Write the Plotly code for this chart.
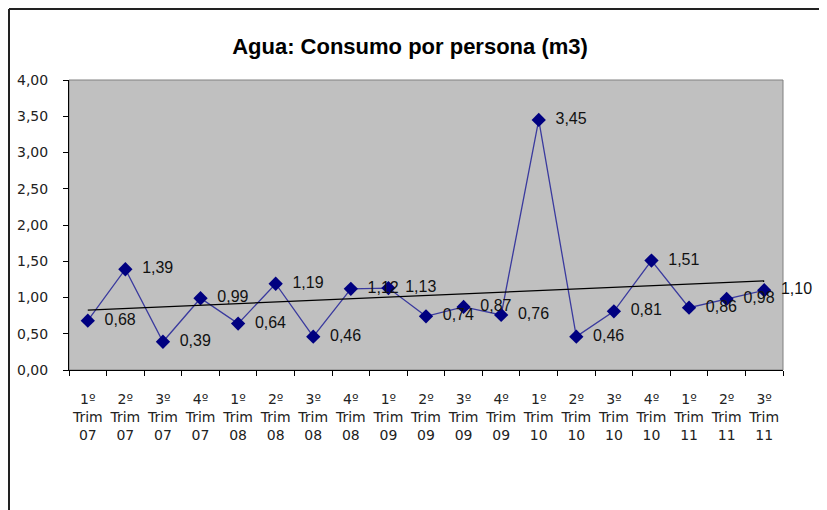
import numpy as np
import plotly.graph_objects as go

categories = ["1º<br>Trim<br>07", "2º<br>Trim<br>07", "3º<br>Trim<br>07", "4º<br>Trim<br>07",
              "1º<br>Trim<br>08", "2º<br>Trim<br>08", "3º<br>Trim<br>08", "4º<br>Trim<br>08",
              "1º<br>Trim<br>09", "2º<br>Trim<br>09", "3º<br>Trim<br>09", "4º<br>Trim<br>09",
              "1º<br>Trim<br>10", "2º<br>Trim<br>10", "3º<br>Trim<br>10", "4º<br>Trim<br>10",
              "1º<br>Trim<br>11", "2º<br>Trim<br>11", "3º<br>Trim<br>11"]
values = [0.68, 1.39, 0.39, 0.99, 0.64, 1.19, 0.46, 1.12, 1.13, 0.74,
          0.87, 0.76, 3.45, 0.46, 0.81, 1.51, 0.86, 0.98, 1.10]
y_ticks = [0, 0.5, 1, 1.5, 2, 2.5, 3, 3.5, 4]
y_ticktext = [f"{v:.2f}".replace(".", ",") for v in y_ticks]

labels = ["\u00a0\u00a0" + f"{v:.2f}".replace(".", ",") for v in values]

idx = np.arange(len(values))
slope, intercept = np.polyfit(idx, values, 1)
trend = [intercept + slope * i for i in (idx[0], idx[-1])]

fig = go.Figure()
fig.add_trace(go.Scatter(
    x=categories, y=values, mode="lines+markers+text",
    line=dict(color="#3a3a9e", width=1.3),
    marker=dict(symbol="diamond", size=11, color="#000080"),
    text=labels, textposition="middle right",
    textfont=dict(family="Liberation Sans, Arial", size=16, color="#111111"),
    cliponaxis=False, showlegend=False))
fig.add_trace(go.Scatter(
    x=[categories[0], categories[-1]], y=trend, mode="lines",
    line=dict(color="#000000", width=1.2), hoverinfo="skip", showlegend=False))

# the page body has an 8px margin; figure coordinates are page coordinates minus 8
OFF = 8
W, H = 827 - OFF, 510 - OFF
L, R, T, B = 69 - OFF, 783 - OFF, 80 - OFF, 370 - OFF
def px_x(p):
    return (p - OFF - L) / (R - L)
def px_y(p):
    return (B - (p - OFF)) / (B - T)

fig.update_layout(
    width=W, height=H,
    margin=dict(l=L, r=W - R, t=T, b=H - B, autoexpand=False),
    paper_bgcolor="#ffffff", plot_bgcolor="#c0c0c0",
    title=dict(text="<b>Agua: Consumo por persona (m3)</b>",
               font=dict(family="Liberation Sans, Arial", size=22, color="#000000"),
               x=(410 - OFF) / W, xanchor="center", xref="container",
               y=1 - (46 - OFF) / H, yanchor="middle", yref="container"),
    xaxis=dict(type="category", categoryorder="array", categoryarray=categories,
               showgrid=False, showline=True, linecolor="#000000", automargin=False,
               linewidth=1, ticks="outside", tickson="boundaries", ticklen=5,
               tickcolor="#000000", tickangle=0, ticklabelstandoff=16,
               tickfont=dict(family="DejaVu Sans", size=14, color="#222222"),
               range=[-0.5, len(categories) - 0.5]),
    yaxis=dict(range=[0, 4], tickvals=y_ticks, ticktext=y_ticktext, showgrid=False,
               zeroline=False, showline=True, linecolor="#000000", linewidth=1,
               automargin=False, ticks="outside", ticklen=5, tickcolor="#000000",
               ticklabelstandoff=12,
               tickfont=dict(family="DejaVu Sans", size=14, color="#222222")),
    shapes=[
        dict(type="rect", xref="paper", yref="paper", x0=0, x1=1, y0=0, y1=1,
             line=dict(color="#808080", width=1), layer="below"),
        dict(type="line", xref="paper", yref="paper",
             x0=px_x(9), x1=px_x(840), y0=px_y(9), y1=px_y(9),
             line=dict(color="#222222", width=2)),
        dict(type="line", xref="paper", yref="paper",
             x0=px_x(9), x1=px_x(9), y0=px_y(9), y1=px_y(520),
             line=dict(color="#222222", width=2)),
    ],
)

fig.write_html("out.html")
